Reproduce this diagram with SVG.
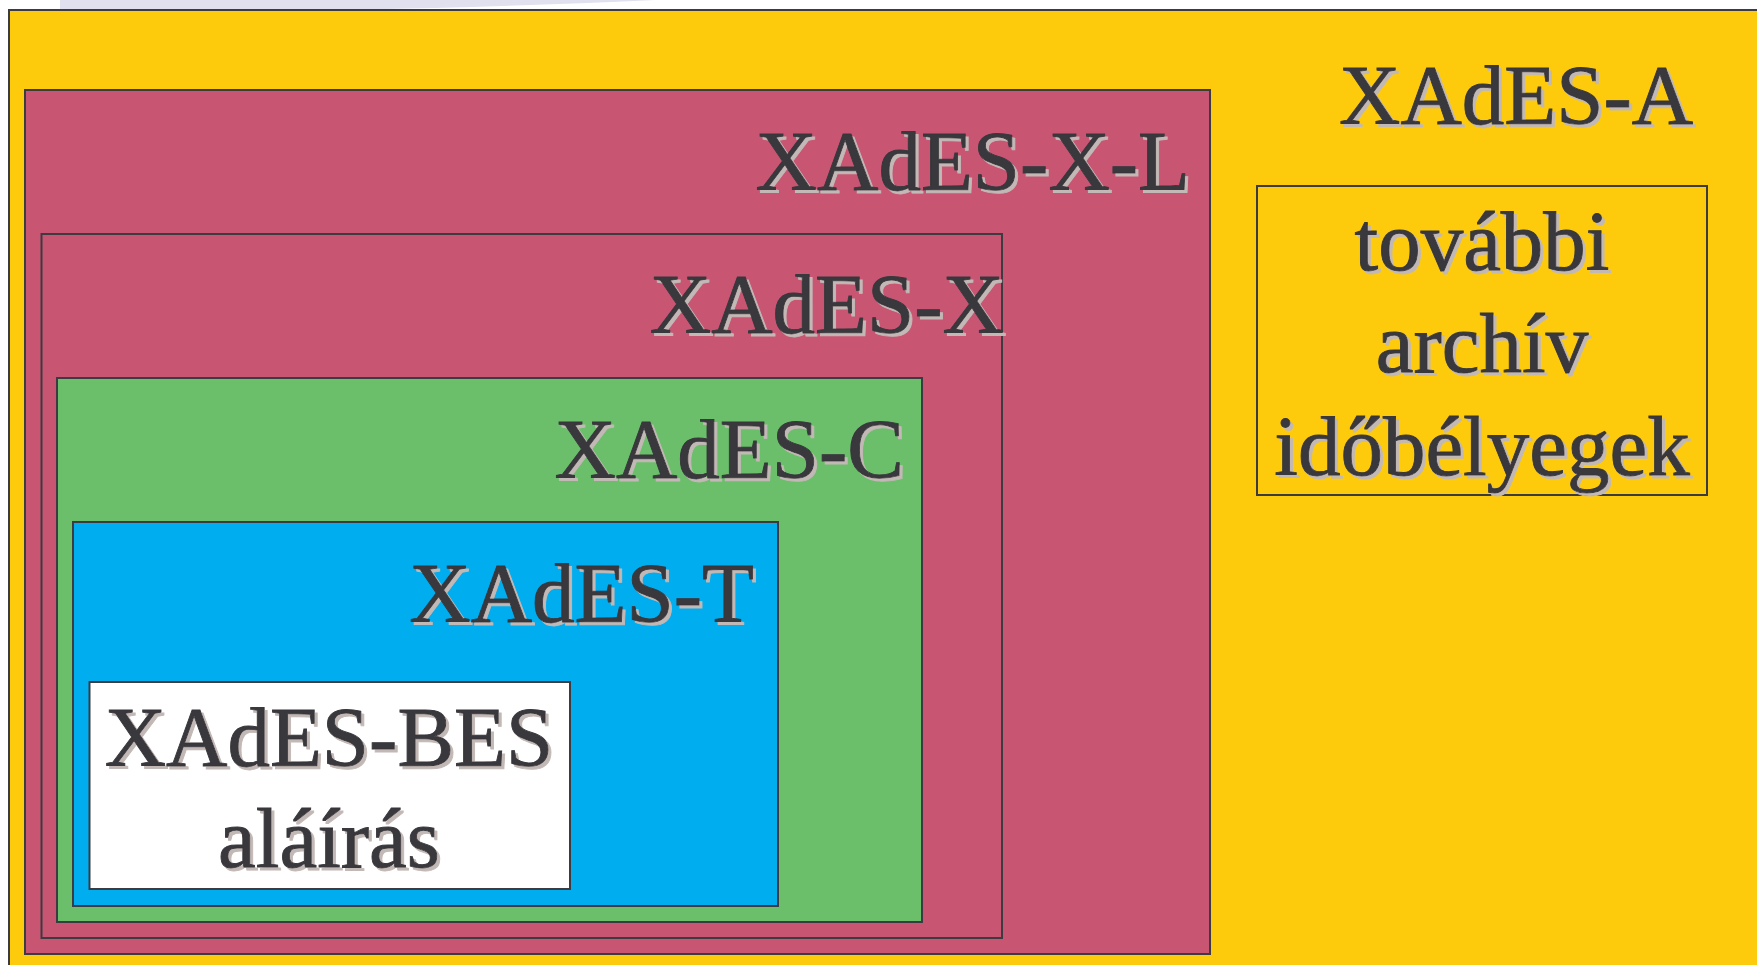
<svg xmlns="http://www.w3.org/2000/svg" width="1757" height="965" viewBox="0 0 1757 965">
  <defs>
    <!-- crisp grey offset shadow behind every label -->
    <filter id="shadow" x="-5%" y="-5%" width="110%" height="120%">
      <feOffset in="SourceAlpha" dx="3" dy="3" result="off"/>
      <feFlood flood-color="#c2b8b6" result="col"/>
      <feComposite in="col" in2="off" operator="in" result="sh"/>
      <feMerge>
        <feMergeNode in="sh"/>
        <feMergeNode in="SourceGraphic"/>
      </feMerge>
    </filter>
    <style>
      .box { stroke: #3c3b42; stroke-width: 2; }
      .lbl { font-family: "Liberation Serif", "Times New Roman", serif; font-size: 85px; fill: #38373c; stroke: #38373c; stroke-width: 0.9; filter: url(#shadow); }
      .mid { text-anchor: middle; }
      .end { text-anchor: end; }
    </style>
  </defs>

  <rect width="1757" height="965" fill="#ffffff"/>
  <!-- page-curl band along the top edge -->
  <path d="M60,0 V9.5 H360 Q500,7 655,0 Z" fill="#e0e0ee"/>

  <g id="xades-a">
    <rect class="box" x="9" y="10" width="1800" height="1000" fill="#fdcb0c"/>
    <text class="lbl" x="1339" y="124">XAdES-A</text>
  </g>

  <g id="archive-timestamps">
    <rect class="box" x="1257" y="186" width="450" height="309" fill="none"/>
    <text class="lbl mid" x="1482" y="270">további</text>
    <text class="lbl mid" x="1482" y="372">archív</text>
    <text class="lbl mid" x="1482" y="475">időbélyegek</text>
  </g>

  <g id="xades-x-l">
    <rect class="box" x="25" y="90" width="1185" height="864" fill="#c85673"/>
    <text class="lbl end" x="1190" y="190">XAdES-X-L</text>
  </g>

  <g id="xades-x">
    <rect class="box" x="41.5" y="234" width="960.5" height="704" fill="#c85673"/>
    <text class="lbl end" x="1004" y="333">XAdES-X</text>
  </g>

  <g id="xades-c">
    <rect class="box" x="57" y="378" width="865" height="544" fill="#6bbf6a"/>
    <text class="lbl end" x="904" y="478">XAdES-C</text>
  </g>

  <g id="xades-t">
    <rect class="box" x="73" y="522" width="705" height="384" fill="#00adee"/>
    <text class="lbl end" x="754" y="622">XAdES-T</text>
  </g>

  <g id="xades-bes">
    <rect class="box" x="89.5" y="682" width="480.5" height="207" fill="#ffffff"/>
    <text class="lbl mid" x="329" y="766">XAdES-BES</text>
    <text class="lbl mid" x="329" y="867">aláírás</text>
  </g>

  <g id="connectors"/>
</svg>
